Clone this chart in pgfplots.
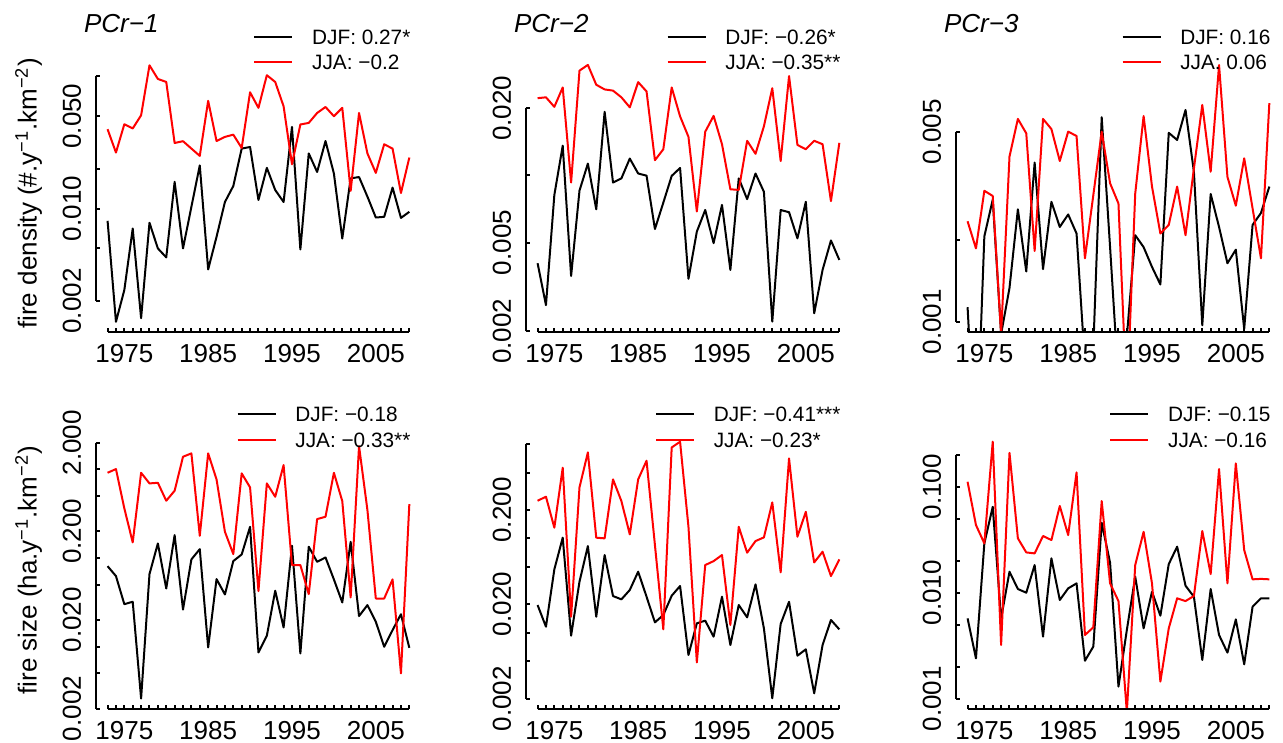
\documentclass[border=0pt]{standalone}
\usepackage{fontspec}
\setmainfont{Liberation Sans}
\usepackage{pgfplots}
\usepackage{pgfplotstable}
\pgfplotsset{compat=1.18}

\newcommand{\ticksize}{\fontsize{13}{15.6}\selectfont}
\newcommand{\legsize}{\fontsize{10.4}{12.5}\selectfont}

% fire density, PCr-1 .. PCr-3
\pgfplotstableread{
year djf jja
1973 0.00807 0.0398
1974 0.00139 0.0265
1975 0.00242 0.0434
1976 0.00706 0.0403
1977 0.00148 0.0507
1978 0.00780 0.1211
1979 0.00499 0.0955
1980 0.00427 0.0906
1981 0.0159 0.0313
1982 0.00499 0.0323
1983 0.0103 0.0284
1984 0.0212 0.0250
1985 0.00346 0.0652
1986 0.00611 0.0324
1987 0.0112 0.0348
1988 0.0148 0.0362
1989 0.0284 0.0287
1990 0.0292 0.0757
1991 0.0116 0.0577
1992 0.0203 0.1019
1993 0.0138 0.0906
1994 0.0112 0.0593
1995 0.0414 0.0216
1996 0.00490 0.0432
1997 0.0261 0.0444
1998 0.0189 0.0528
1999 0.0324 0.0586
2000 0.0184 0.0499
2001 0.00593 0.0577
2002 0.0169 0.0136
2003 0.0173 0.0528
2004 0.0123 0.0261
2005 0.00855 0.0186
2006 0.00865 0.0306
2007 0.0144 0.0284
2008 0.00849 0.0131
2009 0.00944 0.0243
}\densA

\pgfplotstableread{
year djf jja
1973 0.00404 0.0222
1974 0.00262 0.0224
1975 0.00817 0.0203
1976 0.0136 0.0248
1977 0.00354 0.00929
1978 0.00855 0.0295
1979 0.0113 0.0313
1980 0.00705 0.0255
1981 0.0193 0.0243
1982 0.00929 0.0240
1983 0.00970 0.0224
1984 0.0119 0.0202
1985 0.0102 0.0262
1986 0.00998 0.0238
1987 0.00575 0.0117
1988 0.00755 0.0131
1989 0.00995 0.0248
1990 0.0108 0.0184
1991 0.00344 0.0149
1992 0.00560 0.00689
1993 0.00700 0.0157
1994 0.00497 0.0185
1995 0.00738 0.0138
1996 0.00377 0.00867
1997 0.00970 0.00861
1998 0.00783 0.0143
1999 0.0102 0.0125
2000 0.00845 0.0166
2001 0.00221 0.0246
2002 0.00700 0.0116
2003 0.00684 0.0279
2004 0.00522 0.0137
2005 0.00762 0.0131
2006 0.00241 0.0143
2007 0.00377 0.0138
2008 0.00511 0.00767
2009 0.00418 0.0140
}\densB

\pgfplotstableread{
year djf jja
1973 0.00113 0.00234
1974 0.0003 0.00186
1975 0.00206 0.00303
1976 0.00281 0.00290
1977 0.0009 0.0009
1978 0.00133 0.00405
1979 0.00259 0.00557
1980 0.00153 0.00493
1981 0.00385 0.00182
1982 0.00156 0.00557
1983 0.00276 0.00511
1984 0.00223 0.00390
1985 0.00248 0.00500
1986 0.00211 0.00482
1987 0.0007 0.00171
1988 0.0008 0.00292
1989 0.00565 0.00500
1990 0.00188 0.00323
1991 0.0006 0.00272
1992 0.00088 0.0005
1993 0.00208 0.00296
1994 0.00188 0.00571
1995 0.00159 0.00314
1996 0.00137 0.00211
1997 0.00495 0.00227
1998 0.00466 0.00314
1999 0.00601 0.00208
2000 0.00356 0.00366
2001 0.00097 0.00627
2002 0.00295 0.00356
2003 0.00223 0.00879
2004 0.00164 0.00341
2005 0.00184 0.00267
2006 0.00094 0.00399
2007 0.00227 0.00261
2008 0.00251 0.00171
2009 0.00314 0.00637
}\densC

% fire size, PCr-1 .. PCr-3
\pgfplotstableread{
year djf jja
1973 0.0809 0.916
1974 0.0625 1.009
1975 0.0301 0.363
1976 0.0321 0.150
1977 0.00259 0.916
1978 0.0658 0.695
1979 0.1459 0.706
1980 0.0453 0.443
1981 0.1811 0.574
1982 0.0262 1.390
1983 0.0964 1.517
1984 0.1259 0.1782
1985 0.00977 1.517
1986 0.0578 0.771
1987 0.0388 0.1977
1988 0.0923 0.1107
1989 0.1096 0.902
1990 0.225 0.627
1991 0.00859 0.0423
1992 0.01324 0.695
1993 0.0427 0.491
1994 0.01644 1.119
1995 0.1374 0.0832
1996 0.00836 0.0832
1997 0.1340 0.0391
1998 0.0906 0.275
1999 0.1014 0.292
2000 0.0573 0.916
2001 0.0315 0.439
2002 0.1524 0.0359
2003 0.0221 1.832
2004 0.0294 0.348
2005 0.01905 0.0349
2006 0.00995 0.0349
2007 0.01535 0.0573
2008 0.0232 0.00498
2009 0.00968 0.406
}\sizeA

\pgfplotstableread{
year djf jja
1973 0.01968 0.251
1974 0.01159 0.277
1975 0.0470 0.1300
1976 0.1019 0.562
1977 0.00931 0.01479
1978 0.0348 0.348
1979 0.0830 0.817
1980 0.01479 0.1019
1981 0.0667 0.1002
1982 0.0245 0.423
1983 0.0226 0.249
1984 0.0284 0.1104
1985 0.0444 0.423
1986 0.0241 0.667
1987 0.01288 0.0851
1988 0.01542 0.01086
1989 0.0247 0.923
1990 0.0313 1.059
1991 0.00581 0.1330
1992 0.01259 0.00485
1993 0.01343 0.0522
1994 0.00908 0.0575
1995 0.0241 0.0667
1996 0.00741 0.01208
1997 0.01968 0.1330
1998 0.01456 0.0706
1999 0.0326 0.0938
2000 0.01114 0.1026
2001 0.00202 0.241
2002 0.01239 0.0437
2003 0.0213 0.706
2004 0.00571 0.1042
2005 0.00667 0.1919
2006 0.00228 0.0557
2007 0.00741 0.0723
2008 0.01365 0.0399
2009 0.01086 0.0600
}\sizeB

\pgfplotstableread{
year djf jja
1973 0.00573 0.1114
1974 0.00240 0.0435
1975 0.0292 0.0292
1976 0.0647 0.266
1977 0.00573 0.00321
1978 0.01578 0.209
1979 0.01084 0.0326
1980 0.01000 0.0240
1981 0.01824 0.0235
1982 0.00385 0.0343
1983 0.0211 0.0314
1984 0.00853 0.0658
1985 0.01099 0.0350
1986 0.01225 0.1365
1987 0.00228 0.00399
1988 0.00310 0.00471
1989 0.0457 0.0733
1990 0.01919 0.01225
1991 0.00130 0.00834
1992 0.00445 0.00075
1993 0.01416 0.01824
1994 0.00461 0.0376
1995 0.01021 0.01225
1996 0.00607 0.00145
1997 0.01862 0.00461
1998 0.0272 0.00885
1999 0.01164 0.00834
2000 0.00916 0.00931
2001 0.00232 0.0382
2002 0.01084 0.0150
2003 0.00399 0.1469
2004 0.00272 0.01225
2005 0.00560 0.1660
2006 0.00211 0.0253
2007 0.00738 0.01337
2008 0.00885 0.0135
2009 0.00883 0.01337
}\sizeC

\pgfplotsset{
  legend image code/.code={\draw[#1, line width=1pt] (0pt,0pt) -- (19pt,0pt);},
  rpanel/.style={
    scale only axis,
    width=162.95pt,
    xmin=1971.56, xmax=2010.44,
    axis x line*=bottom,
    axis y line*=left,
    axis line style={draw=none},
    clip mode=individual,
    tick align=inside,
    major tick length=2pt,
    minor tick length=2pt,
    tick style={black, line width=1pt},
    xtick={1975,1985,1995,2005},
    xticklabels={1975,1985,1995,2005},
    minor xtick={1973,1974,...,2009},
    yminorticks=false,
    tick label style={font=\ticksize, inner sep=0pt},
    xticklabel style={anchor=north},
    xticklabel shift=6pt,
    yticklabel style={rotate=90, anchor=south},
    yticklabel shift=7pt,
    legend style={at={(1,1)}, anchor=north east, xshift=-5.5pt,
      draw=none, fill=none, inner sep=0pt, outer sep=0pt,
      font=\legsize, row sep=5.3pt, column sep=9.35pt,
      nodes={inner sep=0pt, text height=7.5pt, text depth=0pt},
      cells={anchor=west}},
    every axis plot/.append style={line width=1pt, line join=round, mark=none},
  },
  toprow/.style={height=138.5pt, legend style={yshift=12.9pt}},
  botrow/.style={height=139pt, legend style={yshift=12.4pt}},
}

\begin{document}
\begin{tikzpicture}
\useasboundingbox (0,0) rectangle (641.5pt,-371.5pt);

% ---- top row: fire density ----
\begin{axis}[rpanel, toprow, ymode=log, at={(47.75pt,-166pt)}, anchor=south west,
    ymin=0.001164, ymax=0.1449,
    ytick={0.002,0.005,0.01,0.02,0.05,0.1},
    yticklabels={0.002,{},0.010,{},0.050,{}}]
  \addplot[black] table[x=year, y=djf] {\densA};
  \addlegendentry{DJF: 0.27*}
  \addplot[red] table[x=year, y=jja] {\densA};
  \addlegendentry{JJA: −0.2}
  \draw[line width=1pt] (axis cs:1971.56,0.002) -- (axis cs:1971.56,0.1);
  \draw[line width=1pt] (axis cs:1973,0.001164) -- (axis cs:2009,0.001164);
\end{axis}

\begin{axis}[rpanel, toprow, ymode=log, at={(262.75pt,-166pt)}, anchor=south west,
    ymin=0.001986, ymax=0.03467,
    ytick={0.002,0.005,0.01,0.02},
    yticklabels={0.002,0.005,{},0.020}]
  \addplot[black] table[x=year, y=djf] {\densB};
  \addlegendentry{DJF: −0.26*}
  \addplot[red] table[x=year, y=jja] {\densB};
  \addlegendentry{JJA: −0.35**}
  \draw[line width=1pt] (axis cs:1971.56,0.002) -- (axis cs:1971.56,0.02);
  \draw[line width=1pt] (axis cs:1973,0.001986) -- (axis cs:2009,0.001986);
\end{axis}

\begin{axis}[rpanel, toprow, ymode=log, at={(477.75pt,-166pt)}, anchor=south west,
    ymin=0.000916, ymax=0.00957,
    ytick={0.001,0.002,0.005},
    yticklabels={0.001,{},0.005}]
  \addplot[black] table[x=year, y=djf] {\densC};
  \addlegendentry{DJF: 0.16}
  \addplot[red] table[x=year, y=jja] {\densC};
  \addlegendentry{JJA: 0.06}
  \draw[line width=1pt] (axis cs:1971.56,0.001) -- (axis cs:1971.56,0.005);
  \draw[line width=1pt] (axis cs:1973,0.000916) -- (axis cs:2009,0.000916);
\end{axis}

% ---- bottom row: fire size ----
\begin{axis}[rpanel, botrow, ymode=log, at={(47.75pt,-354.65pt)}, anchor=south west,
    ymin=0.001959, ymax=2.692,
    ytick={0.002,0.005,0.01,0.02,0.05,0.1,0.2,0.5,1,2},
    yticklabels={0.002,{},{},0.020,{},{},0.200,{},{},2.000}]
  \addplot[black] table[x=year, y=djf] {\sizeA};
  \addlegendentry{DJF: −0.18}
  \addplot[red] table[x=year, y=jja] {\sizeA};
  \addlegendentry{JJA: −0.33**}
  \draw[line width=1pt] (axis cs:1971.56,0.002) -- (axis cs:1971.56,2);
  \draw[line width=1pt] (axis cs:1973,0.001959) -- (axis cs:2009,0.001959);
\end{axis}

\begin{axis}[rpanel, botrow, ymode=log, at={(262.75pt,-354.65pt)}, anchor=south west,
    ymin=0.001542, ymax=1.368,
    ytick={0.002,0.005,0.01,0.02,0.05,0.1,0.2,0.5,1},
    yticklabels={0.002,{},{},0.020,{},{},0.200,{},{}}]
  \addplot[black] table[x=year, y=djf] {\sizeB};
  \addlegendentry{DJF: −0.41***}
  \addplot[red] table[x=year, y=jja] {\sizeB};
  \addlegendentry{JJA: −0.23*}
  \draw[line width=1pt] (axis cs:1971.56,0.002) -- (axis cs:1971.56,1);
  \draw[line width=1pt] (axis cs:1973,0.001542) -- (axis cs:2009,0.001542);
\end{axis}

\begin{axis}[rpanel, botrow, ymode=log, at={(477.75pt,-354.65pt)}, anchor=south west,
    ymin=0.000794, ymax=0.3334,
    ytick={0.001,0.002,0.005,0.01,0.02,0.05,0.1,0.2},
    yticklabels={0.001,{},{},0.010,{},{},0.100,{}}]
  \addplot[black] table[x=year, y=djf] {\sizeC};
  \addlegendentry{DJF: −0.15}
  \addplot[red] table[x=year, y=jja] {\sizeC};
  \addlegendentry{JJA: −0.16}
  \draw[line width=1pt] (axis cs:1971.56,0.001) -- (axis cs:1971.56,0.2);
  \draw[line width=1pt] (axis cs:1973,0.000794) -- (axis cs:2009,0.000794);
\end{axis}

% titles and row labels
\node[anchor=base west, font=\ticksize\itshape] at (38.5pt,-16.5pt) {PCr−1};
\node[anchor=base west, font=\ticksize\itshape] at (253.5pt,-16.5pt) {PCr−2};
\node[anchor=base west, font=\ticksize\itshape] at (468.5pt,-16.5pt) {PCr−3};
\node[rotate=90, anchor=base, font=\ticksize] at (18.25pt,-96.75pt)
  {fire density (\#.y\textsuperscript{−1}.km\textsuperscript{−2})};
\node[rotate=90, anchor=base, font=\ticksize] at (18.25pt,-285.15pt)
  {fire size (ha.y\textsuperscript{−1}.km\textsuperscript{−2})};
\end{tikzpicture}
\end{document}
